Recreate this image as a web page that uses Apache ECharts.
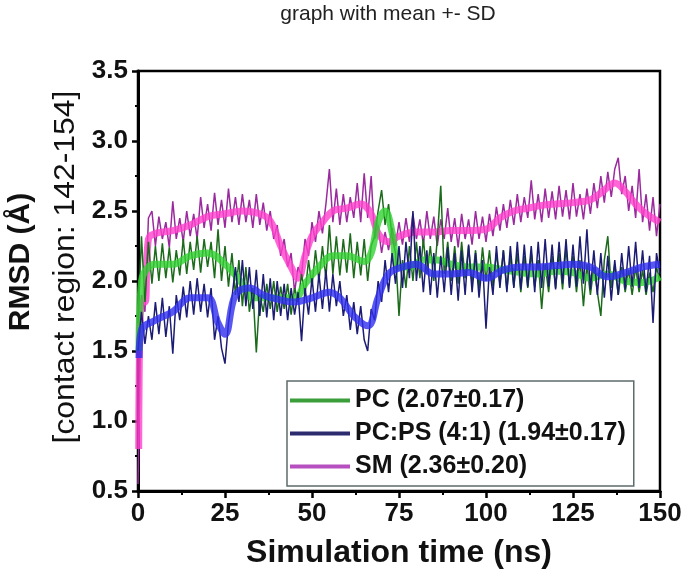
<!DOCTYPE html>
<html>
<head>
<meta charset="utf-8">
<script src="https://cdn.jsdelivr.net/npm/echarts@6/dist/echarts.min.js"></script>
<style>html,body{margin:0;padding:0;background:#fff;}#chart{width:688px;height:583px;}</style>
</head>
<body>
<div id="chart"></div>
<script>
// ---- data (RMSD in Å, one sample per ns, t = 0..150) ----
const TIME_STEP_NS = 1;
const xTicks = [0, 25, 50, 75, 100, 125, 150];
const yTicks = [0.5, 1.0, 1.5, 2.0, 2.5, 3.0, 3.5];
const seriesNames = ['PC (2.07\u00b10.17)', 'PC:PS (4:1) (1.94\u00b10.17)', 'SM (2.36\u00b10.20)'];

const PC = [1.70,2.32,1.85,2.28,1.98,2.25,2.00,2.27,2.02,2.24,1.99,2.22,2.04,2.30,2.05,2.28,2.08,2.32,2.06,2.30,
2.10,2.28,2.02,2.37,2.00,2.25,1.96,2.20,1.90,2.15,1.82,2.10,1.78,1.95,1.49,1.90,1.78,1.98,1.80,2.00,
1.78,1.96,1.80,1.98,1.76,1.95,1.85,2.05,1.90,2.15,1.96,2.22,2.00,2.25,2.02,2.40,2.05,2.32,2.04,2.30,
2.06,2.34,2.02,2.28,2.04,2.30,2.00,2.25,2.32,2.50,2.65,2.40,2.55,2.32,2.20,1.75,2.15,1.95,2.25,2.00,
2.28,2.02,2.30,2.05,2.25,2.00,2.30,2.68,2.05,2.28,2.00,2.25,1.98,2.28,2.02,2.25,1.98,2.22,1.95,2.24,
2.00,2.22,1.96,2.20,1.98,2.22,1.94,2.18,1.96,2.20,1.92,2.18,1.95,2.20,1.96,2.15,1.80,2.12,1.92,2.18,
1.95,2.20,1.94,2.24,1.96,2.18,1.92,2.15,1.82,2.12,1.90,2.10,1.92,1.75,2.15,2.32,1.95,2.12,1.90,2.10,
1.92,2.08,1.90,2.10,1.92,2.08,1.90,2.06,1.92,2.10,2.00];

const PCPS = [1.50,1.78,1.55,1.75,1.58,1.85,1.62,1.88,1.60,1.82,1.48,1.90,1.72,1.96,1.74,2.00,1.76,2.02,1.78,1.98,
1.74,1.95,1.58,1.75,1.52,1.41,1.70,1.88,2.10,1.85,2.15,1.82,2.10,1.80,2.08,1.75,2.05,1.74,2.02,1.72,
2.00,1.75,1.98,1.72,1.95,1.76,1.92,1.57,1.95,1.76,2.02,1.78,2.05,1.80,2.08,1.78,2.05,1.82,2.00,1.75,
1.90,1.65,1.85,1.62,1.82,1.58,1.50,1.80,1.72,2.00,1.85,2.15,1.92,2.20,1.98,2.25,1.95,2.28,2.02,2.50,
2.00,2.25,1.92,2.22,1.90,2.20,1.88,2.18,1.92,2.24,1.90,2.20,1.86,2.22,1.90,2.26,1.92,2.20,1.88,2.15,
1.66,2.10,1.90,2.25,1.95,2.22,1.92,2.25,1.95,2.28,1.94,2.26,1.96,2.25,1.92,2.28,1.95,2.30,1.96,2.26,
1.94,2.28,1.98,2.30,1.95,2.26,1.96,2.32,1.98,2.37,1.94,2.22,1.90,2.20,1.88,2.18,1.86,2.15,1.90,2.20,
1.94,2.25,1.96,2.28,1.95,2.22,1.92,2.18,1.70,2.20,2.05];

const SM = [0.55,1.90,1.78,2.45,2.50,2.25,2.46,2.30,2.42,2.24,2.57,2.30,2.45,2.28,2.50,2.32,2.48,2.30,2.60,2.38,
2.55,2.36,2.63,2.40,2.58,2.38,2.66,2.42,2.60,2.40,2.62,2.42,2.58,2.38,2.62,2.40,2.56,2.36,2.50,2.30,
2.40,2.18,2.30,2.10,2.20,1.92,2.10,2.04,2.30,2.18,2.42,2.28,2.50,2.34,2.55,2.80,2.42,2.66,2.40,2.62,
2.42,2.60,2.45,2.70,2.42,2.77,2.45,2.75,2.30,2.40,2.20,2.35,2.22,2.38,2.25,2.42,2.26,2.45,2.28,2.48,
2.30,2.44,2.26,2.50,2.30,2.46,2.25,2.44,2.30,2.52,2.28,2.45,2.24,2.48,2.30,2.44,2.26,2.50,2.30,2.46,
2.28,2.48,2.32,2.53,2.36,2.55,2.38,2.58,2.40,2.62,2.42,2.60,2.45,2.72,2.44,2.62,2.42,2.66,2.45,2.64,
2.44,2.68,2.46,2.65,2.44,2.70,2.46,2.62,2.44,2.66,2.48,2.70,2.52,2.75,2.56,2.78,2.60,2.80,2.88,2.62,
2.75,2.50,2.68,2.45,2.80,2.42,2.62,2.36,2.60,2.32,2.55];

// running-mean traces (bright thick cores)
const PC_meanT = [0.3,1,3,5,10,15,20,25,30,33,36,40,45,48,52,56,60,65,67,69,71,73,75,78,82,86,90,95,100,105,110,115,120,125,130,135,140,145,150];
const PC_meanV = [1.5,2.0,2.1,2.12,2.12,2.18,2.2,2.12,1.98,1.88,1.88,1.88,1.88,1.98,2.1,2.18,2.18,2.14,2.2,2.42,2.5,2.35,2.1,2.1,2.15,2.15,2.12,2.1,2.1,2.08,2.06,2.05,2.07,2.06,2.02,2.05,2.0,1.99,2.03];
const PCPS_meanT = [0.3,1,5,10,15,20,23,25,28,32,36,40,45,50,55,58,62,66,69,72,76,80,85,90,95,100,105,110,115,120,125,130,135,140,145,150];
const PCPS_meanV = [1.45,1.65,1.72,1.78,1.88,1.88,1.7,1.62,1.9,1.95,1.9,1.87,1.85,1.88,1.92,1.88,1.75,1.68,1.88,2.05,2.1,2.12,2.05,2.05,2.06,2.02,2.08,2.1,2.1,2.11,2.12,2.1,2.03,2.06,2.1,2.12];
const SM_meanT = [0.2,1,2,3,5,10,15,20,25,30,35,38,41,44,46,48,50,53,56,60,64,67,69,72,75,80,85,90,95,100,104,108,112,116,120,125,130,134,137,140,143,146,150];
const SM_meanV = [0.8,1.85,1.85,2.3,2.34,2.36,2.40,2.46,2.48,2.50,2.48,2.43,2.25,2.10,2.02,2.18,2.32,2.42,2.5,2.52,2.55,2.48,2.34,2.28,2.32,2.35,2.35,2.36,2.36,2.37,2.45,2.5,2.52,2.54,2.55,2.56,2.58,2.65,2.70,2.64,2.55,2.48,2.42];

// ---- build ----
const toPairs = arr => arr.map((v, i) => [i * TIME_STEP_NS, v]);
const zip = (t, v) => t.map((x, i) => [x, v[i]]);

const FONT = '"Liberation Sans", Arial, Helvetica, sans-serif';
const colors = {
  PC: { dark: '#1b6b1b', bright: '#33d133', legend: '#3a9e3a' },
  PCPS: { dark: '#1c1c74', bright: '#3030ee', legend: '#2b2b6e' },
  SM: { dark: '#9a2a9e', bright: '#ff40cc', legend: '#b650c0' }
};

function noisy(name, data, c, z) {
  return { name: name, type: 'line', data: data, showSymbol: false, symbol: 'none', z: z,
    lineStyle: { color: c, width: 1.5 }, itemStyle: { color: c }, silent: true };
}
function core(name, data, c, z) {
  return { name: name, type: 'line', data: data, showSymbol: false, symbol: 'none', smooth: 0.4, z: z,
    lineStyle: { color: c, width: 7, opacity: 0.8 }, itemStyle: { color: c }, silent: true };
}

const chart = echarts.init(document.getElementById('chart'), null, { renderer: 'canvas' });
chart.setOption({
  animation: false,
  backgroundColor: '#fff',
  textStyle: { fontFamily: FONT },
  grid: { left: 138, right: 28, top: 71, bottom: 92, show: true, borderColor: '#000', borderWidth: 2.5, backgroundColor: 'transparent' },
  xAxis: {
    type: 'value', min: xTicks[0], max: xTicks[xTicks.length - 1], interval: 25,
    axisLine: { show: true, onZero: false, lineStyle: { color: '#000', width: 3 } },
    axisTick: { show: true, length: 7, lineStyle: { color: '#000', width: 2.5 } },
    minorTick: { show: true, splitNumber: 2, length: 4, lineStyle: { color: '#000', width: 2 } },
    splitLine: { show: false },
    axisLabel: { color: '#111', fontSize: 26, fontWeight: 'bold', fontFamily: FONT, margin: 10 },
    name: 'Simulation time (ns)', nameLocation: 'middle', nameGap: 46,
    nameTextStyle: { color: '#111', fontSize: 32, fontWeight: 'bold', fontFamily: FONT }
  },
  yAxis: {
    type: 'value', min: yTicks[0], max: yTicks[yTicks.length - 1], interval: 0.5,
    axisLine: { show: true, onZero: false, lineStyle: { color: '#000', width: 3 } },
    axisTick: { show: true, length: 6, lineStyle: { color: '#000', width: 2.5 } },
    minorTick: { show: true, splitNumber: 2, length: 3, lineStyle: { color: '#000', width: 2 } },
    splitLine: { show: false },
    axisLabel: { color: '#111', fontSize: 26, fontWeight: 'bold', fontFamily: FONT, margin: 10,
      formatter: v => v.toFixed(1) }
  },
  legend: {
    orient: 'vertical', left: 287, top: 381,
    padding: [6, 8, 6, 3], itemGap: 6, itemWidth: 60, itemHeight: 4, icon: 'rect',
    borderColor: '#5d6b6b', borderWidth: 1.5, backgroundColor: '#fff',
    textStyle: { color: '#111', fontSize: 25, fontWeight: 'bold', fontFamily: FONT, lineHeight: 27 },
    selectedMode: false,
    data: [
      { name: seriesNames[0], itemStyle: { color: colors.PC.legend } },
      { name: seriesNames[1], itemStyle: { color: colors.PCPS.legend } },
      { name: seriesNames[2], itemStyle: { color: colors.SM.legend } }
    ]
  },
  graphic: [
    { type: 'text', x: 388, y: 14, style: { text: 'graph with mean +- SD', font: '21px ' + FONT, fill: '#222', align: 'center', verticalAlign: 'middle' } },
    { type: 'text', x: 21, y: 262, rotation: Math.PI / 2, style: { text: 'RMSD (\u00c5)', font: 'bold 30px ' + FONT, fill: '#111', align: 'center', verticalAlign: 'middle' } },
    { type: 'text', x: 66, y: 267, rotation: Math.PI / 2, scaleX: 1.1, style: { text: '[contact region: 142-154]', font: '29px ' + FONT, fill: '#111', align: 'center', verticalAlign: 'middle' } }
  ],
  series: [
    noisy(seriesNames[2], toPairs(SM), colors.SM.dark, 2),
    core('SM mean', zip(SM_meanT, SM_meanV), colors.SM.bright, 3),
    noisy(seriesNames[0], toPairs(PC), colors.PC.dark, 4),
    core('PC mean', zip(PC_meanT, PC_meanV), colors.PC.bright, 5),
    noisy(seriesNames[1], toPairs(PCPS), colors.PCPS.dark, 6),
    core('PCPS mean', zip(PCPS_meanT, PCPS_meanV), colors.PCPS.bright, 7)
  ]
});
</script>
</body>
</html>
